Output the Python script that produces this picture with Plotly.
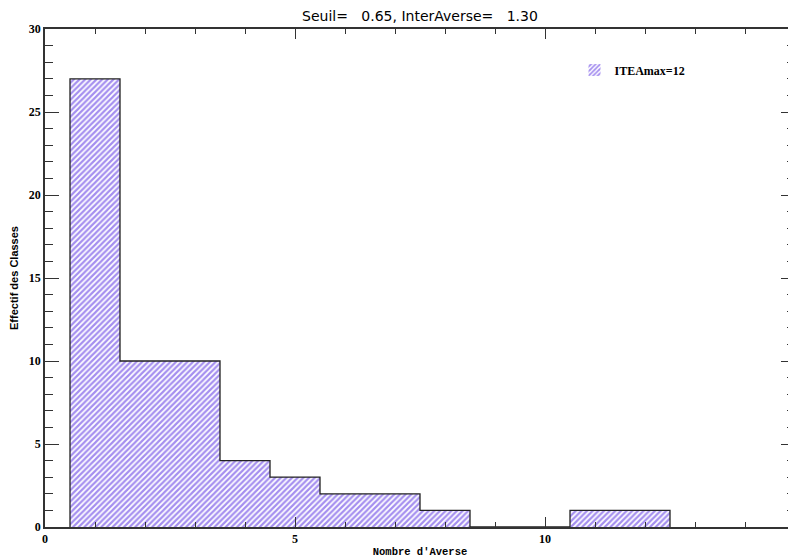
import plotly.graph_objects as go

# nombre d'averses par episode et effectif de chaque classe
classes = [1, 2, 3, 4, 5, 6, 7, 8, 9, 10, 11, 12]
effectifs = [27, 10, 10, 4, 3, 2, 2, 1, 0, 0, 1, 1]
seuil = 0.65
inter_averse = 1.30
itea_max = 12

x_ticks = [0, 5, 10, 15]
y_ticks = [0, 5, 10, 15, 20, 25, 30]

# contour en escalier de l'histogramme
sx, sy = [classes[0] - 0.5], [0]
for c, n in zip(classes, effectifs):
    sx += [c - 0.5, c + 0.5]
    sy += [n, n]
sx.append(classes[-1] + 0.5)
sy.append(0)

fig = go.Figure()
fig.add_trace(go.Bar(
    x=classes, y=effectifs, width=1,
    name="ITEAmax=%d" % itea_max,
    marker=dict(color="white", line=dict(width=0),
                pattern=dict(shape="/", fgcolor="#4a1ee0", bgcolor="white",
                             size=4, solidity=0.55)),
    showlegend=True,
))
fig.add_trace(go.Scatter(
    x=sx, y=sy, mode="lines", line=dict(color="#222222", width=1.3),
    showlegend=False, hoverinfo="skip",
))

axis_common = dict(
    showgrid=False, zeroline=False, showline=True, linecolor="#333333",
    linewidth=1.5, mirror="ticks", ticks="inside", tickcolor="#333333",
    automargin=False,
    tickfont=dict(family="Liberation Serif", size=12, color="black", weight="bold"),
)

fig.update_xaxes(
    range=[0, 15], tickvals=x_ticks, ticklen=10, tickwidth=1.3,
    minor=dict(dtick=1, ticklen=5, ticks="inside", tickcolor="#333333", tickwidth=1.3),
    title=dict(text="Nombre d'Averse", standoff=2,
               font=dict(family="Liberation Mono", size=10.5, color="black", weight="bold")),
    **axis_common,
)
fig.update_yaxes(
    range=[0, 30], tickvals=y_ticks, ticklen=14, tickwidth=1.3,
    minor=dict(dtick=1, ticklen=8, ticks="inside", tickcolor="#333333", tickwidth=1.3),
    title=dict(text="Effectif des Classes", standoff=8,
               font=dict(family="Liberation Sans", size=11, color="black", weight="bold")),
    **axis_common,
)

# la page ajoute une marge de 8 px autour de la figure
titre = "Seuil=\u00a0\u00a0\u00a0%.2f, InterAverse=\u00a0\u00a0\u00a0%.2f" % (seuil, inter_averse)
fig.update_layout(
    width=788, height=550,
    margin=dict(l=37, r=1, t=21, b=31),
    plot_bgcolor="white", paper_bgcolor="white",
    barmode="overlay", bargap=0,
    title=dict(text=titre, x=0.5228, xanchor="center", y=0.985, yanchor="middle",
               font=dict(family="DejaVu Sans", size=14, color="black")),
    legend=dict(x=0.706, y=0.947, xanchor="left", yanchor="top",
                bgcolor="rgba(0,0,0,0)",
                font=dict(family="Liberation Serif", size=12, color="black", weight="bold")),
)

fig.write_html("out.html")
